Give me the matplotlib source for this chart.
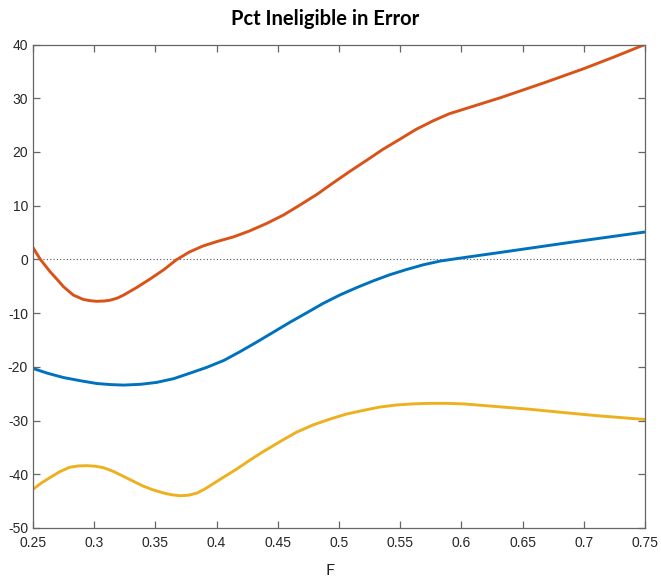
import matplotlib
matplotlib.use("Agg")
import matplotlib.pyplot as plt

# ---- data ----
f_orange = [0.250, 0.256, 0.264, 0.270, 0.275, 0.283, 0.291, 0.297, 0.302, 0.308, 0.313,
            0.319, 0.324, 0.335, 0.346, 0.357, 0.367, 0.378, 0.389, 0.400, 0.414,
            0.427, 0.441, 0.455, 0.468, 0.482, 0.495, 0.509, 0.523, 0.536, 0.550,
            0.563, 0.577, 0.590, 0.604, 0.618, 0.632, 0.650, 0.668, 0.700, 0.725, 0.750]
v_orange = [2.2, 0.0, -2.3, -3.8, -5.1, -6.65, -7.45, -7.7, -7.8, -7.75, -7.6,
            -7.2, -6.65, -5.2, -3.6, -1.9, -0.1, 1.4, 2.5, 3.3, 4.2,
            5.3, 6.7, 8.3, 10.1, 12.1, 14.2, 16.4, 18.5, 20.5, 22.4,
            24.2, 25.8, 27.1, 28.1, 29.1, 30.1, 31.5, 32.9, 35.5, 37.7, 40.0]

f_blue = [0.250, 0.262, 0.275, 0.289, 0.302, 0.313, 0.324, 0.338, 0.351, 0.365,
          0.378, 0.392, 0.406, 0.419, 0.432, 0.446, 0.460, 0.474, 0.487, 0.501,
          0.515, 0.528, 0.541, 0.555, 0.569, 0.583, 0.598, 0.632, 0.690, 0.750]
v_blue = [-20.3, -21.2, -22.0, -22.6, -23.1, -23.3, -23.4, -23.25, -22.9, -22.2,
          -21.2, -20.1, -18.8, -17.2, -15.5, -13.6, -11.7, -9.9, -8.2, -6.6,
          -5.2, -4.0, -2.9, -1.9, -1.0, -0.3, 0.2, 1.3, 3.2, 5.1]

f_yellow = [0.250, 0.257, 0.264, 0.272, 0.280, 0.287, 0.294, 0.301, 0.308, 0.316,
            0.324, 0.332, 0.340, 0.348, 0.357, 0.363, 0.370, 0.377, 0.384, 0.390,
            0.397, 0.406, 0.416, 0.427, 0.438, 0.452, 0.465, 0.479, 0.493, 0.506,
            0.520, 0.533, 0.547, 0.560, 0.574, 0.588, 0.602, 0.629,
            0.656, 0.683, 0.711, 0.750]
v_yellow = [-42.8, -41.6, -40.6, -39.5, -38.7, -38.45, -38.4, -38.5, -38.8, -39.5,
            -40.4, -41.3, -42.2, -42.9, -43.5, -43.8, -44.0, -43.9, -43.5, -42.8,
            -41.8, -40.5, -39.1, -37.4, -35.8, -33.9, -32.2, -30.8, -29.7, -28.8,
            -28.1, -27.5, -27.1, -26.9, -26.8, -26.8, -26.9, -27.4,
            -27.9, -28.5, -29.1, -29.8]

x_ticks = [0.25, 0.3, 0.35, 0.4, 0.45, 0.5, 0.55, 0.6, 0.65, 0.7, 0.75]
x_tick_labels = ["0.25", "0.3", "0.35", "0.4", "0.45", "0.5", "0.55", "0.6", "0.65", "0.7", "0.75"]
y_ticks = [-50, -40, -30, -20, -10, 0, 10, 20, 30, 40]
y_tick_labels = ["-50", "-40", "-30", "-20", "-10", "0", "10", "20", "30", "40"]

title = "Pct Ineligible in Error"
xlabel = "F"

# ---- figure ----
fig = plt.figure(figsize=(6.61, 5.84), dpi=100)
ax = fig.add_axes([0.0499, 0.0959, 0.9258, 0.8279])

lw = 2.1
kw = dict(lw=lw, solid_capstyle="round", solid_joinstyle="round")
ax.plot(f_blue, v_blue, color="#0072BD", **kw)
ax.plot(f_orange, v_orange, color="#D95319", **kw)
ax.plot(f_yellow, v_yellow, color="#EDB120", **kw)
ax.axhline(0, color="#555555", lw=0.8, ls=(0, (1, 2)), zorder=1)

ax.set_xlim(0.25, 0.75)
ax.set_ylim(-50, 40)
ax.set_xticks(x_ticks)
ax.set_xticklabels(x_tick_labels, fontfamily="Liberation Sans", fontsize=10, color="#262626")
ax.set_yticks(y_ticks)
ax.set_yticklabels(y_tick_labels, fontfamily="Liberation Sans", fontsize=10, color="#262626")

axis_col = "#666666"
for s in ax.spines.values():
    s.set_color(axis_col)
    s.set_linewidth(0.9)
ax.tick_params(direction="in", length=5, width=0.9, color=axis_col,
               top=True, right=True)
ax.tick_params(axis="x", pad=5.5)
ax.tick_params(axis="y", pad=3.5)

fig.text(0.492, 0.968, title, ha="center", va="center",
         fontfamily="Lato", fontweight="bold", fontsize=14.5, color="black")
fig.text(0.499, 0.023, xlabel, ha="center", va="center",
         fontfamily="Lato", fontsize=11.5, color="#222222")

fig.savefig("out.png", dpi=100, facecolor="white")
